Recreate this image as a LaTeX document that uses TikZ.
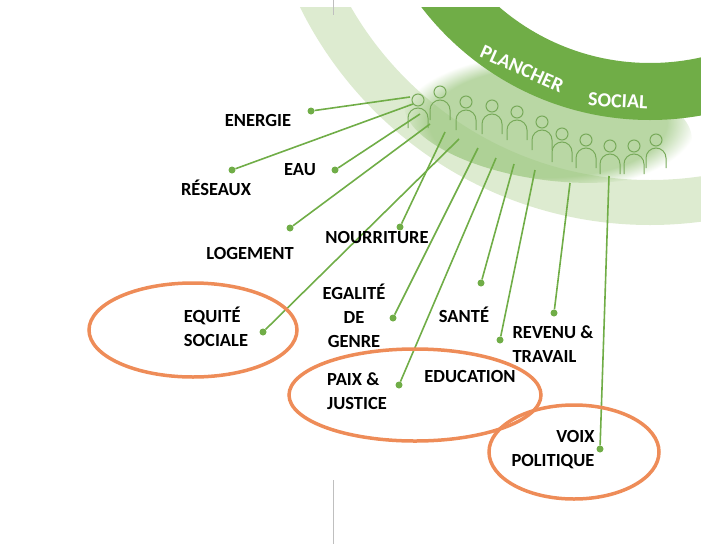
\documentclass[tikz,border=0pt]{standalone}
\usepackage{fontspec}
\setmainfont{Carlito}
\usetikzlibrary{fadings}
\definecolor{gdark}{RGB}{112,173,71}
\definecolor{glight}{RGB}{221,235,208}
\definecolor{gpeople}{RGB}{120,170,90}
\definecolor{oran}{RGB}{238,140,88}
\tikzset{
  lab/.style={font=\bfseries\fontsize{18.5}{20}\selectfont, text=black, align=center, inner sep=0pt},
  conn/.style={draw=gdark, line width=1.6pt},
  dot/.style={circle, fill=gdark, inner sep=0pt, minimum size=7pt},
  ring/.style={draw=oran, line width=3.5pt},
  person/.style={draw=gpeople, line width=1pt}
}
\begin{document}
\begin{tikzpicture}[x=1pt,y=-1pt]
\useasboundingbox (0,0) rectangle (701,544);
\begin{scope}
\clip (0,7) rectangle (701,544);
\fill[glight, even odd rule] (650,-165) circle (390) (650,-165) circle (345);
\fill[gdark!70, opacity=.7, path fading=circle with fuzzy edge 20 percent, rotate around={-8:(548,122)}] (548,122) ellipse (145 and 58);
\fill[gdark, even odd rule] (650,-168) circle (288) (650,-168) circle (231);
\end{scope}
\foreach \x/\y in {418/100,440/92,466/102,492/106,517/112,542/122,562/134,586/140,610/146,634/146,656/140}{
  \draw[person] (\x,\y) circle (6);
  \draw[person] (\x-10,\y+28) -- (\x-10,\y+18) arc[start angle=180,end angle=0,x radius=10,y radius=-10] -- (\x+10,\y+28);
}
\node[font=\bfseries\fontsize{20}{22}\selectfont, text=white, rotate=-24] (pl) at (522,69) {PLANCHER};
\node[font=\bfseries\fontsize{20}{22}\selectfont, text=white, rotate=-3] (so) at (618,101) {SOCIAL};
\draw[black!25, line width=.8pt] (333,0) -- (333,15);
\draw[black!25, line width=.8pt] (333,480) -- (333,544);
\coordinate (h1) at (410,97);
\coordinate (h2) at (413,104);
\coordinate (h3) at (420,114);
\coordinate (h4) at (430,124);
\coordinate (h5) at (445,132);
\coordinate (h6) at (459,139);
\coordinate (h7) at (478,148);
\coordinate (h8) at (496,158);
\coordinate (h9) at (514,164);
\coordinate (h10) at (535,170);
\coordinate (h11) at (570,183);
\coordinate (h12) at (609,176);
\node[dot] (d1) at (311,111) {};
\node[dot] (d2) at (232,170) {};
\node[dot] (d3) at (335,170) {};
\node[dot] (d4) at (290,228) {};
\node[dot] (d5) at (400,227) {};
\node[dot] (d6) at (263,332) {};
\node[dot] (d7) at (393,318) {};
\node[dot] (d8) at (399,385) {};
\node[dot] (d9) at (481,283) {};
\node[dot] (d10) at (500,340) {};
\node[dot] (d11) at (554,313) {};
\node[dot] (d12) at (600,449) {};
\foreach \i in {1,...,12}{\draw[conn] (h\i) -- (d\i);}
\node[lab] (t1) at (258,120) {ENERGIE};
\node[lab] (t2) at (216,188) {RÉSEAUX};
\node[lab] (t3) at (300,170) {EAU};
\node[lab] (t4) at (250,253) {LOGEMENT};
\node[lab] (t5) at (377,237) {NOURRITURE};
\node[lab, align=left] (t6) at (216,327) {EQUITÉ\\[4pt]SOCIALE};
\node[lab] (t7) at (354,316) {EGALITÉ\\[4pt]DE\\[4pt]GENRE};
\node[lab, align=left] (t8) at (357,391) {PAIX \&\\[4pt]JUSTICE};
\node[lab] (t9) at (464,315) {SANTÉ};
\node[lab] (t10) at (470,376) {EDUCATION};
\node[lab, align=left] (t11) at (553,344) {REVENU \&\\[4pt]TRAVAIL};
\node[lab, align=right] (t12) at (553,450) {VOIX\\[4pt]POLITIQUE};
\draw[ring] (193,330) ellipse (104 and 47);
\draw[ring] (415,395) ellipse (126 and 46);
\draw[ring] (574,452) ellipse (85 and 47);
\end{tikzpicture}
\end{document}
